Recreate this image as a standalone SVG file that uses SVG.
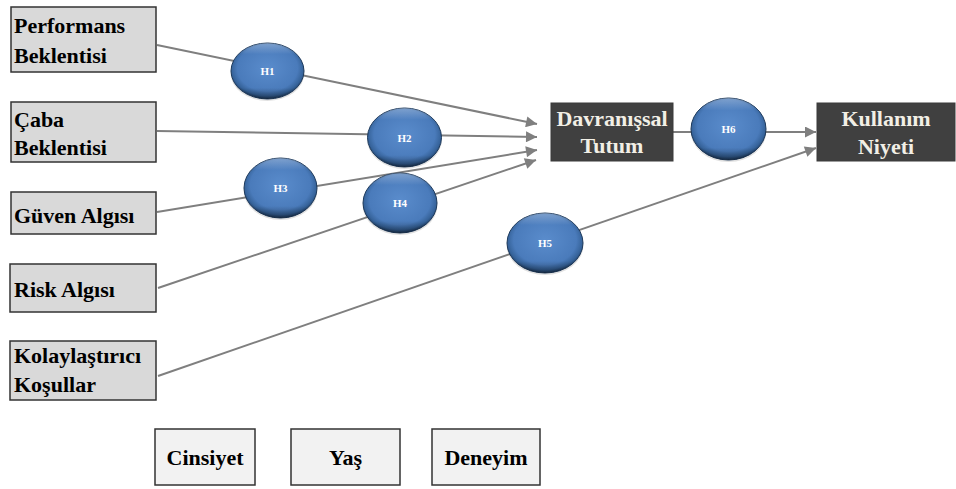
<svg xmlns="http://www.w3.org/2000/svg" width="956" height="489" viewBox="0 0 956 489">
  <style>
    .lbox { fill: #d9d9d9; stroke: #333333; stroke-width: 1.5; }
    .mbox { fill: #f2f2f2; stroke: #333333; stroke-width: 1.5; }
    .dbox { fill: #404040; stroke: #3a3a3a; stroke-width: 1; }
    .lt { font-size: 22px; font-weight: bold; fill: #000000; }
    .dt { font-size: 22px; font-weight: bold; fill: #f2efe6; text-anchor: middle; }
    .ht { font-size: 11px; font-weight: bold; fill: #ffffff; text-anchor: middle; }
    .conn { stroke: #7f7f7f; stroke-width: 2; fill: none; }
    .shadow { fill: #000000; opacity: 0.12; }
    .hyp { fill: url(#blueFill); stroke: #1e3a5c; stroke-width: 1; }
    .rim { fill: url(#rimShade); }
  </style>
  <defs>
    <radialGradient id="blueFill" cx="50%" cy="45%" r="55%">
      <stop offset="0" stop-color="#5a8ccc"/>
      <stop offset="0.75" stop-color="#4a7bbb"/>
      <stop offset="0.9" stop-color="#36639a"/>
      <stop offset="1" stop-color="#1f3d63"/>
    </radialGradient>
    <linearGradient id="rimShade" x1="0" y1="0" x2="0" y2="1">
      <stop offset="0" stop-color="#ffffff" stop-opacity="0.3"/>
      <stop offset="0.2" stop-color="#ffffff" stop-opacity="0"/>
      <stop offset="0.8" stop-color="#000000" stop-opacity="0"/>
      <stop offset="1" stop-color="#000000" stop-opacity="0.35"/>
    </linearGradient>
    <marker id="arrow" viewBox="0 0 10 10" refX="10" refY="5" markerWidth="6" markerHeight="5.5" orient="auto" markerUnits="strokeWidth">
      <path d="M0,0 L10,5 L0,10 Z" fill="#7f7f7f"/>
    </marker>
  </defs>

  <!-- connectors -->
  <g id="connectors">
    <line class="conn" x1="157" y1="45" x2="537" y2="124" marker-end="url(#arrow)"/>
    <line class="conn" x1="157" y1="131" x2="537" y2="137" marker-end="url(#arrow)"/>
    <line class="conn" x1="157" y1="212" x2="537" y2="150" marker-end="url(#arrow)"/>
    <line class="conn" x1="158" y1="288" x2="536" y2="160" marker-end="url(#arrow)"/>
    <line class="conn" x1="158" y1="376" x2="816" y2="148" marker-end="url(#arrow)"/>
    <line class="conn" x1="673" y1="132" x2="816" y2="132" marker-end="url(#arrow)"/>
  </g>

  <!-- input constructs -->
  <g id="performans">
    <rect class="lbox" x="11" y="7" width="145" height="65"/>
    <text class="lt" font-family="Liberation Serif" x="14" y="33">Performans</text>
    <text class="lt" font-family="Liberation Serif" x="14" y="63">Beklentisi</text>
  </g>
  <g id="caba">
    <rect class="lbox" x="11" y="102" width="145" height="60"/>
    <text class="lt" font-family="Liberation Serif" x="14" y="127">Çaba</text>
    <text class="lt" font-family="Liberation Serif" x="14" y="155">Beklentisi</text>
  </g>
  <g id="guven">
    <rect class="lbox" x="11" y="192" width="145" height="42"/>
    <text class="lt" font-family="Liberation Serif" x="14" y="223">Güven Algısı</text>
  </g>
  <g id="risk">
    <rect class="lbox" x="10" y="264" width="146" height="48"/>
    <text class="lt" font-family="Liberation Serif" x="14" y="297">Risk Algısı</text>
  </g>
  <g id="kolaylastirici">
    <rect class="lbox" x="10" y="341" width="146" height="59"/>
    <text class="lt" font-family="Liberation Serif" x="14" y="363">Kolaylaştırıcı</text>
    <text class="lt" font-family="Liberation Serif" x="14" y="392">Koşullar</text>
  </g>

  <!-- moderators -->
  <g id="cinsiyet">
    <rect class="mbox" x="155" y="429" width="100" height="56"/>
    <text class="lt" font-family="Liberation Serif" x="205" y="465" text-anchor="middle">Cinsiyet</text>
  </g>
  <g id="yas">
    <rect class="mbox" x="291" y="429" width="109" height="56"/>
    <text class="lt" font-family="Liberation Serif" x="345.5" y="465" text-anchor="middle">Yaş</text>
  </g>
  <g id="deneyim">
    <rect class="mbox" x="432" y="429" width="108" height="56"/>
    <text class="lt" font-family="Liberation Serif" x="486" y="465" text-anchor="middle">Deneyim</text>
  </g>

  <!-- outcome constructs -->
  <g id="davranissal">
    <rect class="dbox" x="551" y="103" width="122" height="58"/>
    <text class="dt" font-family="Liberation Serif" x="612" y="126">Davranışsal</text>
    <text class="dt" font-family="Liberation Serif" x="612" y="153">Tutum</text>
  </g>
  <g id="kullanim">
    <rect class="dbox" x="817" y="103" width="138" height="58"/>
    <text class="dt" font-family="Liberation Serif" x="886" y="126">Kullanım</text>
    <text class="dt" font-family="Liberation Serif" x="886" y="154">Niyeti</text>
  </g>

  <!-- hypotheses -->
  <g id="h1">
    <ellipse class="shadow" cx="267.5" cy="73" rx="37" ry="28"/>
    <ellipse class="hyp" cx="267.5" cy="71" rx="36.5" ry="28"/>
    <ellipse class="rim" cx="267.5" cy="71" rx="36.5" ry="28"/>
    <text class="ht" font-family="Liberation Serif" x="267.5" y="75">H1</text>
  </g>
  <g id="h2">
    <ellipse class="shadow" cx="404.5" cy="139.5" rx="37.5" ry="29.5"/>
    <ellipse class="hyp" cx="404.5" cy="137.5" rx="37" ry="29.5"/>
    <ellipse class="rim" cx="404.5" cy="137.5" rx="37" ry="29.5"/>
    <text class="ht" font-family="Liberation Serif" x="404.5" y="141.5">H2</text>
  </g>
  <g id="h3">
    <ellipse class="shadow" cx="280.5" cy="190" rx="37" ry="30"/>
    <ellipse class="hyp" cx="280.5" cy="188" rx="36.5" ry="30"/>
    <ellipse class="rim" cx="280.5" cy="188" rx="36.5" ry="30"/>
    <text class="ht" font-family="Liberation Serif" x="280.5" y="192">H3</text>
  </g>
  <g id="h4">
    <ellipse class="shadow" cx="400" cy="205" rx="37.5" ry="30"/>
    <ellipse class="hyp" cx="400" cy="203" rx="37" ry="30"/>
    <ellipse class="rim" cx="400" cy="203" rx="37" ry="30"/>
    <text class="ht" font-family="Liberation Serif" x="400" y="207">H4</text>
  </g>
  <g id="h5">
    <ellipse class="shadow" cx="545" cy="245" rx="38.5" ry="30"/>
    <ellipse class="hyp" cx="545" cy="243" rx="38" ry="30"/>
    <ellipse class="rim" cx="545" cy="243" rx="38" ry="30"/>
    <text class="ht" font-family="Liberation Serif" x="545" y="247">H5</text>
  </g>
  <g id="h6">
    <ellipse class="shadow" cx="728.5" cy="131" rx="38" ry="31"/>
    <ellipse class="hyp" cx="728.5" cy="129" rx="37.5" ry="31"/>
    <ellipse class="rim" cx="728.5" cy="129" rx="37.5" ry="31"/>
    <text class="ht" font-family="Liberation Serif" x="728.5" y="133">H6</text>
  </g>
</svg>
